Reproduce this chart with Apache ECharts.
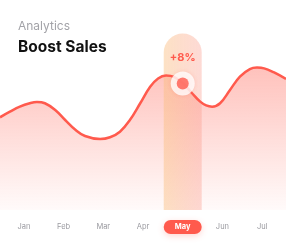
<!DOCTYPE html>
<html>
<head>
<meta charset="utf-8">
<script src="https://cdn.jsdelivr.net/npm/echarts@6/dist/echarts.min.js"></script>
<style>
html,body{margin:0;padding:0;background:#fff;}
#c{width:286px;height:248px;}
</style>
</head>
<body>
<div id="c"></div>
<script>
// Data
var months = ['Jan', 'Feb', 'Mar', 'Apr', 'May', 'Jun', 'Jul'];
var highlightIndex = 4;
var highlightLabel = '+8%';
// curve positions in month units (Jan = 0)
var curveX = [-0.6, -0.35, -0.1, 0.15, 0.33, 0.53, 0.79, 1.04, 1.29, 1.54, 1.92, 2.17, 2.42, 2.67, 2.93, 3.18, 3.38, 3.58, 3.78, 4.01, 4.23, 4.44, 4.59, 4.74, 4.94, 5.19, 5.44, 5.69, 5.87, 6.05, 6.3, 6.6];
var curveY = [51.5, 54.6, 57.4, 59.3, 60.0, 59.3, 55.6, 50.0, 44.7, 41.1, 39.4, 40.4, 43.5, 50.0, 59.3, 68.5, 73.1, 74.7, 73.9, 70.3, 65.0, 60.2, 58.1, 57.4, 59.3, 66.7, 74.1, 78.3, 79.1, 78.7, 76.4, 72.8];
var markerValue = 70.3;
var columnValue = 98;

var curve = curveX.map(function (x, i) { return [x, curveY[i]]; });

var chart = echarts.init(document.getElementById('c'), null, {renderer: 'canvas'});
var red = '#ff5a4d';
chart.setOption({
  animation: false,
  title: [
    {text: 'Analytics', left: 18, top: 20, padding: 0, textStyle: {fontFamily: 'Inter', fontSize: 12, fontWeight: 'normal', color: '#a3a3a8'}},
    {text: 'Boost Sales', left: 18, top: 39, padding: 0, textStyle: {fontFamily: 'Inter', fontSize: 15.5, fontWeight: 'bold', color: '#111'}}
  ],
  grid: [
    {left: 0, right: 0, top: 30, bottom: 38},
    {left: 4, right: 4, top: 30, bottom: 38}
  ],
  xAxis: [
    {type: 'value', gridIndex: 0, min: -0.6, max: 6.6, show: false},
    {type: 'category', gridIndex: 1, data: months, boundaryGap: true,
      axisLine: {show: false}, axisTick: {show: false}, splitLine: {show: false},
      axisLabel: {
        margin: 10, fontFamily: 'Inter', fontSize: 7.5, color: '#9a9aa0', lineHeight: 14,
        formatter: function (v, i) { return i === highlightIndex ? '{hl|' + v + '}' : v; },
        rich: {hl: {backgroundColor: red, color: '#fff', fontWeight: 'bold', fontSize: 7.5, fontFamily: 'Inter',
          width: 38, height: 14, lineHeight: 14, align: 'center', borderRadius: 7,
          shadowColor: 'rgba(255,90,77,0.25)', shadowBlur: 6, shadowOffsetY: 2}}
      }}
  ],
  yAxis: [
    {type: 'value', gridIndex: 0, min: 0, max: 100, show: false},
    {type: 'value', gridIndex: 1, min: 0, max: 100, show: false}
  ],
  series: [
    {type: 'line', xAxisIndex: 0, yAxisIndex: 0, data: curve, smooth: 0.4, symbol: 'none', z: 1,
      lineStyle: {width: 0},
      areaStyle: {color: new echarts.graphic.LinearGradient(0, 0, 0, 1, [
        {offset: 0, color: 'rgba(255,95,80,0.55)'},
        {offset: 1, color: 'rgba(255,95,80,0.04)'}
      ])}},
    {type: 'bar', xAxisIndex: 1, yAxisIndex: 1, z: 2, barWidth: 38,
      data: months.map(function (m, i) { return i === highlightIndex ? columnValue : '-'; }),
      itemStyle: {borderRadius: [19, 19, 0, 0], color: new echarts.graphic.LinearGradient(0, 0, 1, 0, [
        {offset: 0, color: 'rgba(250,190,125,0.45)'},
        {offset: 1, color: 'rgba(251,150,135,0.35)'}
      ])},
      label: {show: true, position: 'insideTop', distance: 19, formatter: highlightLabel,
        fontFamily: 'Inter', fontSize: 11, fontWeight: 'bold', color: red}},
    {type: 'line', xAxisIndex: 0, yAxisIndex: 0, data: curve, smooth: 0.4, symbol: 'none', z: 3,
      lineStyle: {width: 2.5, color: red}},
    {type: 'scatter', xAxisIndex: 0, yAxisIndex: 0, z: 4, data: [[highlightIndex, markerValue]],
      symbolSize: 24, itemStyle: {color: '#fff', shadowColor: 'rgba(255,90,77,0.25)', shadowBlur: 4}},
    {type: 'scatter', xAxisIndex: 0, yAxisIndex: 0, z: 5, data: [[highlightIndex, markerValue]],
      symbolSize: 12, itemStyle: {color: red}}
  ]
});
</script>
</body>
</html>
